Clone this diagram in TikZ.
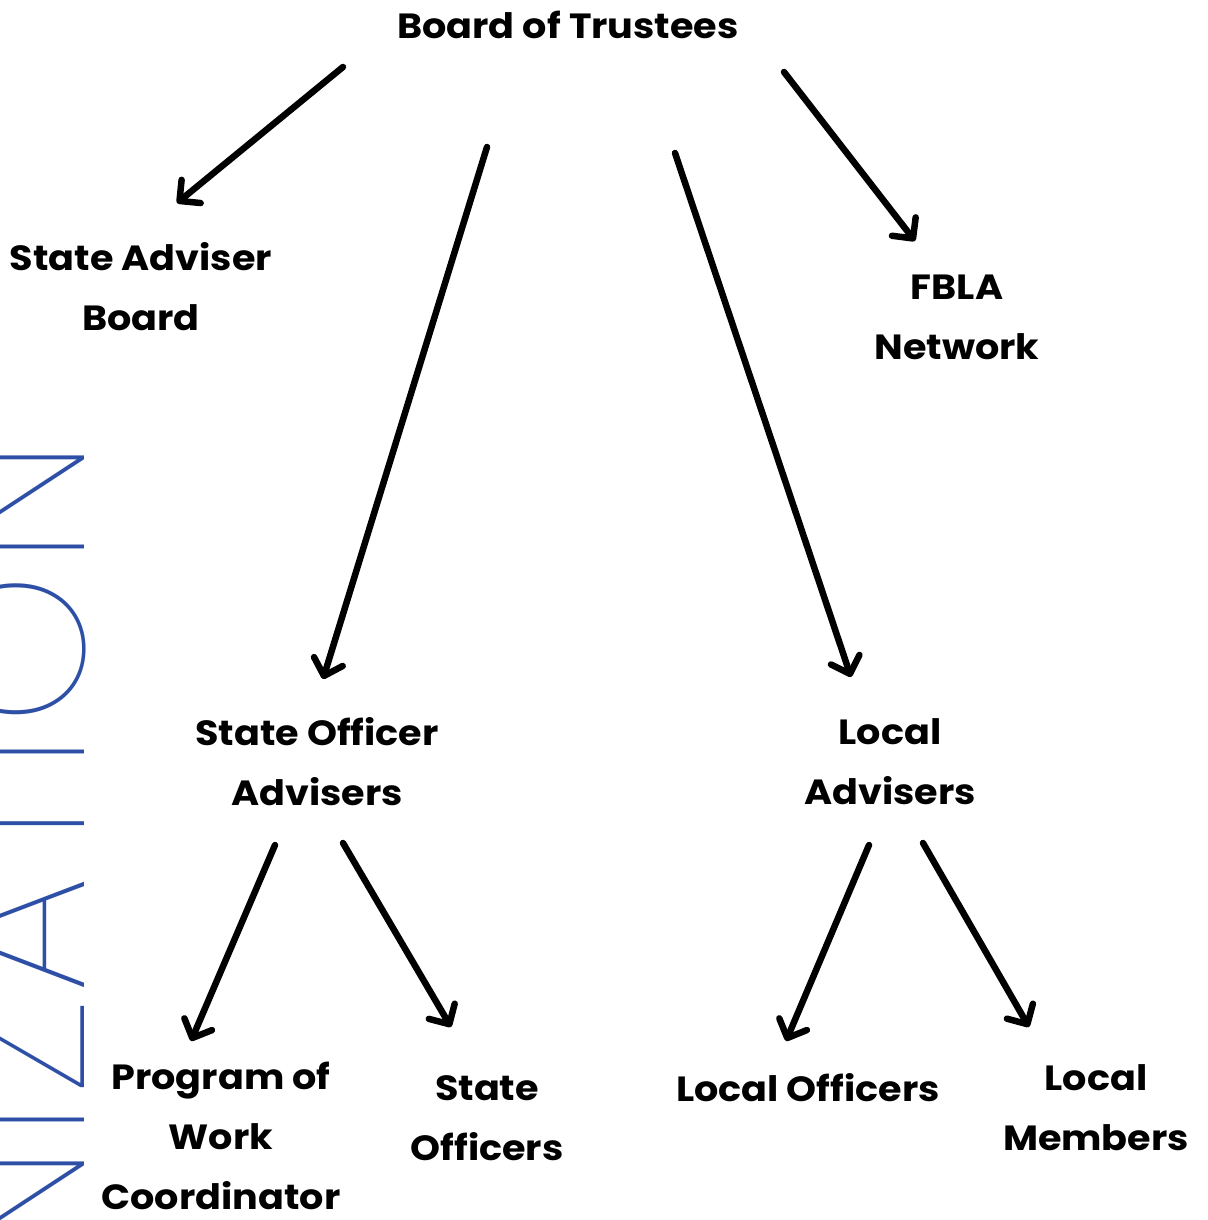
\documentclass[tikz,border=0pt]{standalone}
\usepackage{fontspec}
\setmainfont{Poppins}[FakeStretch=1.09]
\IfFontExistsTF{Poppins Thin}{\newfontfamily\thinfont{Poppins Thin}[LetterSpace=3.5]}{%
  \IfFontExistsTF{Poppins ExtraLight}{\newfontfamily\thinfont{Poppins ExtraLight}[LetterSpace=3.5]}{\newfontfamily\thinfont{Poppins}[LetterSpace=3.5]}}
\usetikzlibrary{arrows.meta}
\definecolor{orgblue}{HTML}{2D4FA6}
\tikzset{
  lbl/.style={font=\fontsize{35}{60}\selectfont\bfseries, align=center, inner sep=0pt},
  arr/.style={line width=6.5pt, line cap=round, -{Straight Barb[length=15pt,width=30pt,round]}},
}

\begin{document}
\begin{tikzpicture}[x=1pt,y=-1pt]
			%%%%% START %%%%%
			\useasboundingbox (0,0) rectangle (1207,1220);
			
			\node[font=\thinfont\fontsize{195}{195}\selectfont, text=orgblue, rotate=90, anchor=base east, inner sep=0pt] (orgword) at (84,439) {ORGANIZATION};
			
			\node[lbl] (trustees) at (568,25) {Board of Trustees};
			\node[lbl] (adviserboard) at (141,287) {State Adviser\\Board};
			\node[lbl] (network) at (957,317) {FBLA\\Network};
			
			\node[lbl] (officeradv) at (317,762) {State Officer\\Advisers};
			\node[lbl] (localadv) at (890,762) {Local\\Advisers};
			
			\node[lbl] (powc) at (221,1136) {Program of\\Work\\Coordinator};
			\node[lbl] (stateoff) at (487,1118) {State\\Officers};
			\node[lbl] (localoff) at (808,1088) {Local Officers};
			\node[lbl] (localmem) at (1096,1108) {Local\\Members};
			
			% arrow ends
			\coordinate (trustees-a) at (343,67);
			\coordinate (trustees-b) at (487,147);
			\coordinate (trustees-c) at (675,153);
			\coordinate (trustees-d) at (784,72);
			\coordinate (adviserboard-in) at (177,203);
			\coordinate (officeradv-in) at (323,679);
			\coordinate (localadv-in) at (851,677);
			\coordinate (network-in) at (915,241);
			
			\coordinate (officeradv-a) at (275,845);
			\coordinate (officeradv-b) at (343,843);
			\coordinate (localadv-a) at (869,845);
			\coordinate (localadv-b) at (923,843);
			\coordinate (powc-in) at (191,1041);
			\coordinate (stateoff-in) at (451,1027);
			\coordinate (localoff-in) at (786,1041);
			\coordinate (localmem-in) at (1029,1027);
			
			\draw[arr] (trustees-a) -- (adviserboard-in);
			\draw[arr] (trustees-b) -- (officeradv-in);
			\draw[arr] (trustees-c) -- (localadv-in);
			\draw[arr] (trustees-d) -- (network-in);
			
			\draw[arr] (officeradv-a) -- (powc-in);
			\draw[arr] (officeradv-b) -- (stateoff-in);
			\draw[arr] (localadv-a) -- (localoff-in);
			\draw[arr] (localadv-b) -- (localmem-in);
			
			%%%%% END %%%%%
\end{tikzpicture}
\end{document}
